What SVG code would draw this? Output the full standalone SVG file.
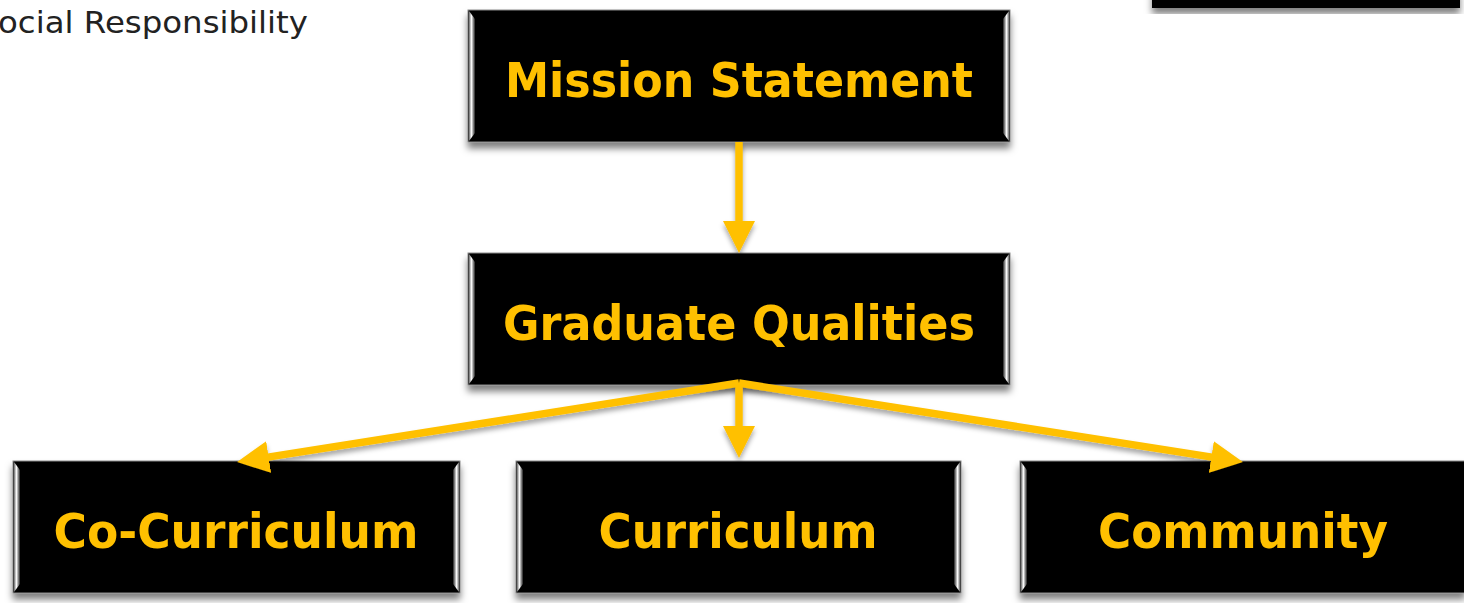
<svg xmlns="http://www.w3.org/2000/svg" width="1464" height="603" viewBox="0 0 1464 603">
<style>
.box{fill:#000;stroke:#8a8a8a;stroke-width:1}
.lbl{font-family:"DejaVu Sans","Liberation Sans",sans-serif;font-weight:bold;font-size:48px;fill:#FFC000;text-anchor:middle}
.side{fill:url(#bev)}
.sideR{fill:url(#bevR)}
.conn{stroke:#FFC000;stroke-width:7.5;fill:none;marker-end:url(#ah)}
.note{font-family:"DejaVu Sans","Liberation Sans",sans-serif;font-size:30px;fill:#222}
</style>
<defs>
<filter id="sh" x="-10%" y="-20%" width="120%" height="150%">
<feDropShadow dx="0" dy="6" stdDeviation="3.5" flood-color="#000" flood-opacity="0.5"/>
</filter>
<filter id="ash" x="-10%" y="-50%" width="120%" height="200%">
<feDropShadow dx="0" dy="4" stdDeviation="2.5" flood-color="#000" flood-opacity="0.35"/>
</filter>
<linearGradient id="bev" x1="0" y1="0" x2="1" y2="0">
<stop offset="0" stop-color="#666"/>
<stop offset="0.4" stop-color="#fff"/>
<stop offset="1" stop-color="#222"/>
</linearGradient>
<linearGradient id="bevR" x1="0" y1="0" x2="1" y2="0">
<stop offset="0" stop-color="#222"/>
<stop offset="0.6" stop-color="#fff"/>
<stop offset="1" stop-color="#666"/>
</linearGradient>
<marker id="ah" markerUnits="userSpaceOnUse" markerWidth="34" markerHeight="32" refX="12" refY="16" orient="auto" viewBox="0 0 34 32">
<path d="M0,0 L32,16 L0,32 z" fill="#FFC000"/>
</marker>
</defs>
<rect width="1464" height="603" fill="#fff"/>

<text class="note" x="-2" y="33" textLength="310" lengthAdjust="spacingAndGlyphs">ocial Responsibility</text>

<g id="topright" filter="url(#sh)">
<rect x="1152" y="-12" width="308" height="20" fill="#000"/>
</g>

<g id="mission" filter="url(#sh)">
<rect class="box" x="468" y="10" width="542" height="132"/>
<polygon class="side" points="469,11 475,19 475,133 469,141"/>
<polygon class="sideR" points="1003,19 1009,11 1009,141 1003,133"/>
<text class="lbl" x="739" y="97" textLength="468" lengthAdjust="spacingAndGlyphs">Mission Statement</text>
</g>

<g id="graduate" filter="url(#sh)">
<rect class="box" x="468" y="253" width="542" height="132"/>
<polygon class="side" points="469,254 475,262 475,376 469,384"/>
<polygon class="sideR" points="1003,262 1009,254 1009,384 1003,376"/>
<text class="lbl" x="739" y="340" textLength="472" lengthAdjust="spacingAndGlyphs">Graduate Qualities</text>
</g>

<g id="cocurriculum" filter="url(#sh)">
<rect class="box" x="13" y="461" width="447" height="132"/>
<polygon class="side" points="14,462 20,470 20,584 14,592"/>
<polygon class="sideR" points="453,470 459,462 459,592 453,584"/>
<text class="lbl" x="236" y="548" textLength="365" lengthAdjust="spacingAndGlyphs">Co-Curriculum</text>
</g>

<g id="curriculum" filter="url(#sh)">
<rect class="box" x="516" y="461" width="445" height="132"/>
<polygon class="side" points="517,462 523,470 523,584 517,592"/>
<polygon class="sideR" points="954,470 960,462 960,592 954,584"/>
<text class="lbl" x="738" y="548" textLength="279" lengthAdjust="spacingAndGlyphs">Curriculum</text>
</g>

<g id="community" filter="url(#sh)">
<rect class="box" x="1020" y="461" width="445" height="132"/>
<polygon class="side" points="1021,462 1027,470 1027,584 1021,592"/>
<text class="lbl" x="1243" y="548" textLength="290" lengthAdjust="spacingAndGlyphs">Community</text>
</g>

<g id="connectors" filter="url(#ash)">
<line class="conn" x1="739" y1="142" x2="739" y2="233"/>
<line class="conn" x1="739" y1="383" x2="739" y2="438"/>
<line class="conn" x1="739" y1="383" x2="256.8" y2="458.9"/>
<line class="conn" x1="739" y1="383" x2="1223.2" y2="458.9"/>
</g>
</svg>
